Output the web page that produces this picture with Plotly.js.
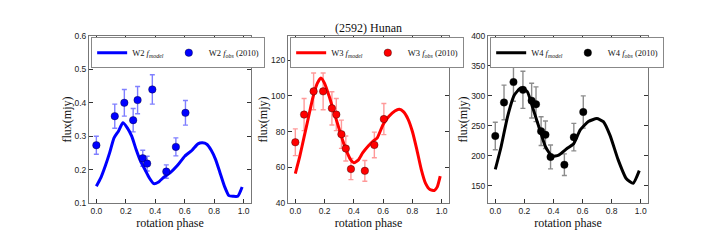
<!DOCTYPE html>
<html>
<head>
<meta charset="utf-8">
<script src="https://cdn.plot.ly/plotly-3.0.1.min.js"></script>
<style>html,body{margin:0;padding:0;background:#fff;}#chart{width:720px;height:240px;}</style>
</head>
<body>
<div id="chart"></div>
<script>
// ---- Observed data (2010) ----
var w2ObsPhase = [0.0, 0.125, 0.19, 0.25, 0.28, 0.315, 0.345, 0.38, 0.475, 0.54, 0.605];
var w2Obs      = [0.273, 0.360, 0.400, 0.348, 0.408, 0.234, 0.218, 0.440, 0.194, 0.268, 0.370];
var w2ObsErr   = [0.027, 0.036, 0.040, 0.035, 0.041, 0.024, 0.022, 0.044, 0.020, 0.027, 0.037];

var w3ObsPhase = [0.0, 0.06, 0.125, 0.19, 0.25, 0.28, 0.315, 0.345, 0.38, 0.475, 0.54, 0.605];
var w3Obs      = [74, 89.5, 102.5, 102.5, 93, 89.5, 78.5, 70.5, 59, 58, 72.5, 87];
var w3ObsErr   = [7.5, 9, 10.3, 10.3, 9.3, 9, 7.9, 7, 5.9, 5.8, 7.2, 8.7];

var w4ObsPhase = [0.0, 0.06, 0.125, 0.19, 0.25, 0.28, 0.315, 0.345, 0.38, 0.475, 0.54, 0.605];
var w4Obs      = [233, 289, 323, 310, 292, 286, 241, 235, 198, 185, 231, 273];
var w4ObsErr   = [23, 29, 32, 31, 29, 29, 24, 23, 20, 18, 23, 27];

// ---- Model curves ----
var w2ModelPhase = [0, 0.03, 0.06, 0.09, 0.12, 0.15, 0.18, 0.21, 0.24, 0.27, 0.30, 0.33, 0.36, 0.39, 0.42, 0.46, 0.50, 0.55, 0.60, 0.65, 0.69, 0.72, 0.75, 0.78, 0.81, 0.84, 0.87, 0.90, 0.93, 0.96, 0.99];
var w2Model      = [0.150, 0.175, 0.210, 0.250, 0.295, 0.315, 0.340, 0.325, 0.300, 0.260, 0.225, 0.200, 0.175, 0.158, 0.162, 0.178, 0.190, 0.212, 0.240, 0.258, 0.277, 0.280, 0.276, 0.258, 0.230, 0.190, 0.150, 0.122, 0.120, 0.120, 0.148];

var w3ModelPhase = [0, 0.03, 0.06, 0.09, 0.12, 0.15, 0.175, 0.20, 0.23, 0.26, 0.29, 0.32, 0.35, 0.38, 0.40, 0.43, 0.46, 0.50, 0.53, 0.56, 0.60, 0.64, 0.68, 0.71, 0.74, 0.77, 0.80, 0.83, 0.86, 0.89, 0.92, 0.95, 0.97, 0.99];
var w3Model      = [56.5, 66, 77, 88, 99, 107, 110, 107, 100, 92, 84, 76, 69, 64, 62.5, 64, 68, 72, 74.5, 76.5, 84, 88.5, 91.5, 92.5, 91, 87, 80, 70, 59, 51, 47.5, 47, 49, 55];

var w4ModelPhase = [0, 0.04, 0.084, 0.13, 0.175, 0.22, 0.255, 0.30, 0.345, 0.39, 0.436, 0.493, 0.539, 0.584, 0.64, 0.698, 0.743, 0.789, 0.845, 0.90, 0.948, 0.99];
var w4Model      = [177, 215, 265, 301, 313, 307, 282, 248, 215, 199, 201, 212, 220, 243, 257, 262, 257, 234, 193, 162, 154, 175];

var xTicks = [0.0, 0.2, 0.4, 0.6, 0.8, 1.0];

var serif = '"Liberation Serif", "DejaVu Serif", serif';
var sans = '"Liberation Sans", Arial, sans-serif';

function modelTrace(x, y, color, name, xa, ya, leg) {
  return {x: x, y: y, type: 'scatter', mode: 'lines', name: name,
    line: {color: color, width: 3, shape: 'spline', smoothing: 0.5},
    xaxis: xa, yaxis: ya, legend: leg};
}
function obsTrace(x, y, err, color, errColor, name, xa, ya, leg) {
  return {x: x, y: y, type: 'scatter', mode: 'markers', name: name,
    marker: {color: color, size: 7.5, line: {color: 'rgba(0,0,0,0.6)', width: 0.6}},
    error_y: {type: 'data', array: err, visible: true, color: errColor, thickness: 1.4, width: 2.5},
    xaxis: xa, yaxis: ya, legend: leg};
}

var data = [
  modelTrace(w2ModelPhase, w2Model, '#0000ff', 'W2 <i>f</i><sub><i>model</i></sub>', 'x', 'y', 'legend'),
  obsTrace(w2ObsPhase, w2Obs, w2ObsErr, '#0000ff', 'rgba(0,0,255,0.5)', 'W2 <i>f</i><sub><i>obs</i></sub> (2010)', 'x', 'y', 'legend'),
  modelTrace(w3ModelPhase, w3Model, '#ff0000', 'W3 <i>f</i><sub><i>model</i></sub>', 'x2', 'y2', 'legend2'),
  obsTrace(w3ObsPhase, w3Obs, w3ObsErr, '#ff0000', 'rgba(255,0,0,0.4)', 'W3 <i>f</i><sub><i>obs</i></sub> (2010)', 'x2', 'y2', 'legend2'),
  modelTrace(w4ModelPhase, w4Model, '#000000', 'W4 <i>f</i><sub><i>model</i></sub>', 'x3', 'y3', 'legend3'),
  obsTrace(w4ObsPhase, w4Obs, w4ObsErr, '#000000', 'rgba(0,0,0,0.45)', 'W4 <i>f</i><sub><i>obs</i></sub> (2010)', 'x3', 'y3', 'legend3')
];

function xAxis(domain, anchor) {
  return {domain: domain, anchor: anchor, range: [-0.05, 1.05], tickvals: xTicks, tickformat: '.1f',
    showline: true, linecolor: '#777', linewidth: 1, mirror: 'ticks', ticks: 'inside', ticklen: 4,
    tickcolor: '#333', showgrid: false, zeroline: false,
    tickfont: {family: sans, size: 8.5, color: '#222'},
    title: {text: 'rotation phase', font: {family: serif, size: 12, color: '#111'}, standoff: 3}};
}
function yAxis(anchor, range, dtick, fmt) {
  return {domain: [0.1542, 0.85], anchor: anchor, range: range, dtick: dtick, tick0: 0, tickformat: fmt,
    showline: true, linecolor: '#777', linewidth: 1, mirror: 'ticks', ticks: 'inside', ticklen: 4,
    tickcolor: '#333', showgrid: false, zeroline: false,
    tickfont: {family: sans, size: 8.5, color: '#222'},
    title: {text: 'flux(mjy)', font: {family: serif, size: 12, color: '#111'}, standoff: 0}};
}
function legendAt(x0) {
  return {x: x0, y: 0.845, xanchor: 'left', yanchor: 'top', orientation: 'h',
    bgcolor: '#fff', bordercolor: '#888', borderwidth: 1,
    font: {family: serif, size: 8.5, color: '#111'}, itemwidth: 30, tracegroupgap: 0};
}

var layout = {
  width: 720, height: 240,
  margin: {l: 0, r: 0, t: 0, b: 0},
  paper_bgcolor: '#fff', plot_bgcolor: '#fff',
  showlegend: true,
  title: {text: '(2592) Hunan', x: 0.5118, xanchor: 'center', y: 0.885, yanchor: 'middle',
    font: {family: serif, size: 12, color: '#111'}},
  xaxis: xAxis([0.1236, 0.3486], 'y'),
  yaxis: yAxis('x', [0.1, 0.6], 0.1, '.1f'),
  xaxis2: xAxis([0.4, 0.6236], 'y2'),
  yaxis2: yAxis('x2', [40, 133.5], 20, 'd'),
  xaxis3: xAxis([0.6778, 0.9], 'y3'),
  yaxis3: yAxis('x3', [121, 400], 50, 'd'),
  legend: legendAt(0.1236 + 0.003),
  legend2: legendAt(0.4 + 0.003),
  legend3: legendAt(0.6778 + 0.003)
};

Plotly.newPlot('chart', data, layout, {staticPlot: true, displayModeBar: false});
</script>
</body>
</html>
